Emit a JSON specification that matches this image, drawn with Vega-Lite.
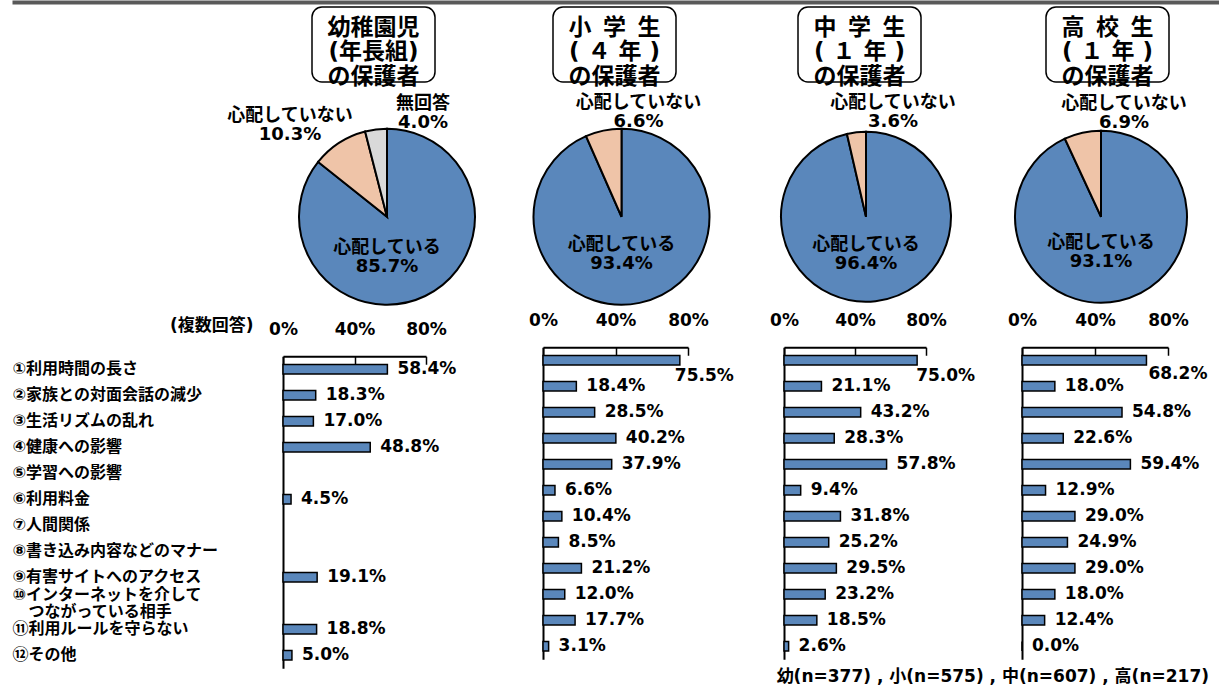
{
  "$schema": "https://vega.github.io/schema/vega-lite/v6.json",
  "padding": {"left": 12, "top": 0, "right": 0, "bottom": 0},
  "background": "white",
  "config": {
    "view": {"stroke": null},
    "font": "DejaVu Sans, Noto Sans CJK JP, sans-serif",
    "text": {"font": "DejaVu Sans, Noto Sans CJK JP, sans-serif", "fontWeight": "bold", "color": "#000"},
    "axis": {"grid": false, "domainColor": "#000", "domainWidth": 2, "tickColor": "#000", "labelColor": "#000", "labelFont": "DejaVu Sans, Noto Sans CJK JP, sans-serif", "labelFontSize": 17, "labelFontWeight": "bold", "titleFont": "DejaVu Sans, Noto Sans CJK JP, sans-serif", "titleFontSize": 17, "titleFontWeight": "bold", "titleColor": "#000", "zindex": 1}
  },
  "datasets": {
    "titles": [
      {"g": "幼", "t": "幼稚園児\n(年長組)\nの保護者"},
      {"g": "小", "t": "小\u2002学\u2002生\n( ４ 年 )\nの保護者"},
      {"g": "中", "t": "中\u2002学\u2002生\n( １ 年 )\nの保護者"},
      {"g": "高", "t": "高\u2002校\u2002生\n( １ 年 )\nの保護者"}
    ],
    "pies": [
      {"g": "幼", "k": 1, "cat": "心配している", "v": 0.857, "lbl": "心配している\n85.7%"},
      {"g": "幼", "k": 2, "cat": "心配していない", "v": 0.103, "lbl": "心配していない\n10.3%"},
      {"g": "幼", "k": 3, "cat": "無回答", "v": 0.040, "lbl": "無回答\n4.0%"},
      {"g": "小", "k": 1, "cat": "心配している", "v": 0.934, "lbl": "心配している\n93.4%"},
      {"g": "小", "k": 2, "cat": "心配していない", "v": 0.066, "lbl": "心配していない\n6.6%"},
      {"g": "中", "k": 1, "cat": "心配している", "v": 0.964, "lbl": "心配している\n96.4%"},
      {"g": "中", "k": 2, "cat": "心配していない", "v": 0.036, "lbl": "心配していない\n3.6%"},
      {"g": "高", "k": 1, "cat": "心配している", "v": 0.931, "lbl": "心配している\n93.1%"},
      {"g": "高", "k": 2, "cat": "心配していない", "v": 0.069, "lbl": "心配していない\n6.9%"}
    ],
    "bars": [
      {"g": "幼", "i": 1, "item": "①利用時間の長さ", "v": 0.584},
      {"g": "幼", "i": 2, "item": "②家族との対面会話の減少", "v": 0.183},
      {"g": "幼", "i": 3, "item": "③生活リズムの乱れ", "v": 0.170},
      {"g": "幼", "i": 4, "item": "④健康への影響", "v": 0.488},
      {"g": "幼", "i": 6, "item": "⑥利用料金", "v": 0.045},
      {"g": "幼", "i": 9, "item": "⑨有害サイトへのアクセス", "v": 0.191},
      {"g": "幼", "i": 11, "item": "⑪利用ルールを守らない", "v": 0.188},
      {"g": "幼", "i": 12, "item": "⑫その他", "v": 0.050},
      {"g": "小", "i": 1, "item": "①利用時間の長さ", "v": 0.755},
      {"g": "小", "i": 2, "item": "②家族との対面会話の減少", "v": 0.184},
      {"g": "小", "i": 3, "item": "③生活リズムの乱れ", "v": 0.285},
      {"g": "小", "i": 4, "item": "④健康への影響", "v": 0.402},
      {"g": "小", "i": 5, "item": "⑤学習への影響", "v": 0.379},
      {"g": "小", "i": 6, "item": "⑥利用料金", "v": 0.066},
      {"g": "小", "i": 7, "item": "⑦人間関係", "v": 0.104},
      {"g": "小", "i": 8, "item": "⑧書き込み内容などのマナー", "v": 0.085},
      {"g": "小", "i": 9, "item": "⑨有害サイトへのアクセス", "v": 0.212},
      {"g": "小", "i": 10, "item": "⑩インターネットを介して|\u200b\u3000つながっている相手", "v": 0.120},
      {"g": "小", "i": 11, "item": "⑪利用ルールを守らない", "v": 0.177},
      {"g": "小", "i": 12, "item": "⑫その他", "v": 0.031},
      {"g": "中", "i": 1, "item": "①利用時間の長さ", "v": 0.750},
      {"g": "中", "i": 2, "item": "②家族との対面会話の減少", "v": 0.211},
      {"g": "中", "i": 3, "item": "③生活リズムの乱れ", "v": 0.432},
      {"g": "中", "i": 4, "item": "④健康への影響", "v": 0.283},
      {"g": "中", "i": 5, "item": "⑤学習への影響", "v": 0.578},
      {"g": "中", "i": 6, "item": "⑥利用料金", "v": 0.094},
      {"g": "中", "i": 7, "item": "⑦人間関係", "v": 0.318},
      {"g": "中", "i": 8, "item": "⑧書き込み内容などのマナー", "v": 0.252},
      {"g": "中", "i": 9, "item": "⑨有害サイトへのアクセス", "v": 0.295},
      {"g": "中", "i": 10, "item": "⑩インターネットを介して|\u200b\u3000つながっている相手", "v": 0.232},
      {"g": "中", "i": 11, "item": "⑪利用ルールを守らない", "v": 0.185},
      {"g": "中", "i": 12, "item": "⑫その他", "v": 0.026},
      {"g": "高", "i": 1, "item": "①利用時間の長さ", "v": 0.682},
      {"g": "高", "i": 2, "item": "②家族との対面会話の減少", "v": 0.180},
      {"g": "高", "i": 3, "item": "③生活リズムの乱れ", "v": 0.548},
      {"g": "高", "i": 4, "item": "④健康への影響", "v": 0.226},
      {"g": "高", "i": 5, "item": "⑤学習への影響", "v": 0.594},
      {"g": "高", "i": 6, "item": "⑥利用料金", "v": 0.129},
      {"g": "高", "i": 7, "item": "⑦人間関係", "v": 0.290},
      {"g": "高", "i": 8, "item": "⑧書き込み内容などのマナー", "v": 0.249},
      {"g": "高", "i": 9, "item": "⑨有害サイトへのアクセス", "v": 0.290},
      {"g": "高", "i": 10, "item": "⑩インターネットを介して|\u200b\u3000つながっている相手", "v": 0.180},
      {"g": "高", "i": 11, "item": "⑪利用ルールを守らない", "v": 0.124},
      {"g": "高", "i": 12, "item": "⑫その他", "v": 0.000}
    ],
    "note": [{"t": "幼(n=377) , 小(n=575) , 中(n=607) , 高(n=217)"}]
  },
  "spacing": 4,
  "vconcat": [
    {"width": 936, "height": 2, "data": {"values": [{"x": 0.5}]}, "mark": {"type": "point", "opacity": 0, "size": 1}, "encoding": {"x": {"field": "x", "type": "quantitative", "scale": {"domain": [0, 1], "range": [-271, 936]}, "axis": {"orient": "top", "offset": -2, "domainWidth": 4, "domainColor": "#595959", "ticks": false, "labels": false, "title": null}}}},
    {
      "spacing": 3.75,
      "vconcat": [
        {
          "bounds": "flush",
          "spacing": 0,
          "hconcat": [
            {"width": 29, "height": 1, "data": {"values": []}, "mark": "text"},
            {"width": 123, "height": 75, "view": {"stroke": "#000", "strokeWidth": 1.5, "cornerRadius": 10}, "data": {"name": "titles"}, "transform": [{"filter": "datum.g=='幼'"}], "mark": {"type": "text", "lineBreak": "\n", "lineHeight": 24.5, "fontSize": 23, "align": "center", "baseline": "middle", "dy": -17}, "encoding": {"text": {"field": "t"}}},
            {"width": 118, "height": 1, "data": {"values": []}, "mark": "text"},
            {"width": 123, "height": 75, "view": {"stroke": "#000", "strokeWidth": 1.5, "cornerRadius": 10}, "data": {"name": "titles"}, "transform": [{"filter": "datum.g=='小'"}], "mark": {"type": "text", "lineBreak": "\n", "lineHeight": 24.5, "fontSize": 23, "align": "center", "baseline": "middle", "dy": -17}, "encoding": {"text": {"field": "t"}}},
            {"width": 122, "height": 1, "data": {"values": []}, "mark": "text"},
            {"width": 123, "height": 75, "view": {"stroke": "#000", "strokeWidth": 1.5, "cornerRadius": 10}, "data": {"name": "titles"}, "transform": [{"filter": "datum.g=='中'"}], "mark": {"type": "text", "lineBreak": "\n", "lineHeight": 24.5, "fontSize": 23, "align": "center", "baseline": "middle", "dy": -17}, "encoding": {"text": {"field": "t"}}},
            {"width": 125, "height": 1, "data": {"values": []}, "mark": "text"},
            {"width": 123, "height": 75, "view": {"stroke": "#000", "strokeWidth": 1.5, "cornerRadius": 10}, "data": {"name": "titles"}, "transform": [{"filter": "datum.g=='高'"}], "mark": {"type": "text", "lineBreak": "\n", "lineHeight": 24.5, "fontSize": 23, "align": "center", "baseline": "middle", "dy": -17}, "encoding": {"text": {"field": "t"}}}
          ]
        },
        {
          "spacing": 2.5,
          "vconcat": [
            {
              "bounds": "flush",
              "spacing": 0,
              "hconcat": [
                {
                  "width": 208, "height": 180,
                  "data": {"name": "pies"}, "transform": [{"filter": "datum.g=='幼'"}],
                  "layer": [
                    {"mark": {"type": "arc", "outerRadius": 88, "stroke": "#000", "strokeWidth": 2}, "encoding": {"theta": {"field": "v", "type": "quantitative", "stack": true}, "order": {"field": "k"}, "color": {"field": "cat", "type": "nominal", "scale": {"domain": ["心配している", "心配していない", "無回答"], "range": ["#5a87bb", "#efc4a8", "#d9d9d9"]}, "legend": null}}},
                    {"transform": [{"filter": "datum.k==1"}], "mark": {"type": "text", "lineBreak": "\n", "fontSize": 18, "lineHeight": 19, "align": "center", "baseline": "middle", "dy": 31}, "encoding": {"text": {"field": "lbl"}}},
                    {"transform": [{"filter": "datum.k==2"}], "mark": {"type": "text", "lineBreak": "\n", "fontSize": 18, "lineHeight": 19, "align": "center", "baseline": "middle", "dx": -97, "dy": -101}, "encoding": {"text": {"field": "lbl"}}},
                    {"transform": [{"filter": "datum.k==3"}], "mark": {"type": "text", "lineBreak": "\n", "fontSize": 18, "lineHeight": 19, "align": "center", "baseline": "middle", "dx": 36, "dy": -112.5}, "encoding": {"text": {"field": "lbl"}}}
                  ]
                },
                {
                  "width": 261, "height": 180,
                  "data": {"name": "pies"}, "transform": [{"filter": "datum.g=='小'"}],
                  "layer": [
                    {"mark": {"type": "arc", "outerRadius": 88, "stroke": "#000", "strokeWidth": 2}, "encoding": {"theta": {"field": "v", "type": "quantitative", "stack": true}, "order": {"field": "k"}, "color": {"field": "cat", "type": "nominal", "scale": {"domain": ["心配している", "心配していない", "無回答"], "range": ["#5a87bb", "#efc4a8", "#d9d9d9"]}, "legend": null}}},
                    {"transform": [{"filter": "datum.k==1"}], "mark": {"type": "text", "lineBreak": "\n", "fontSize": 18, "lineHeight": 19, "align": "center", "baseline": "middle", "dy": 28.5}, "encoding": {"text": {"field": "lbl"}}},
                    {"transform": [{"filter": "datum.k==2"}], "mark": {"type": "text", "lineBreak": "\n", "fontSize": 18, "lineHeight": 19, "align": "center", "baseline": "middle", "dx": 17, "dy": -113.5}, "encoding": {"text": {"field": "lbl"}}}
                  ]
                },
                {
                  "width": 228, "height": 180,
                  "data": {"name": "pies"}, "transform": [{"filter": "datum.g=='中'"}],
                  "layer": [
                    {"mark": {"type": "arc", "outerRadius": 85, "stroke": "#000", "strokeWidth": 2}, "encoding": {"theta": {"field": "v", "type": "quantitative", "stack": true}, "order": {"field": "k"}, "color": {"field": "cat", "type": "nominal", "scale": {"domain": ["心配している", "心配していない", "無回答"], "range": ["#5a87bb", "#efc4a8", "#d9d9d9"]}, "legend": null}}},
                    {"transform": [{"filter": "datum.k==1"}], "mark": {"type": "text", "lineBreak": "\n", "fontSize": 18, "lineHeight": 19, "align": "center", "baseline": "middle", "dy": 28}, "encoding": {"text": {"field": "lbl"}}},
                    {"transform": [{"filter": "datum.k==2"}], "mark": {"type": "text", "lineBreak": "\n", "fontSize": 18, "lineHeight": 19, "align": "center", "baseline": "middle", "dx": 27, "dy": -114}, "encoding": {"text": {"field": "lbl"}}}
                  ]
                },
                {
                  "width": 242, "height": 180,
                  "data": {"name": "pies"}, "transform": [{"filter": "datum.g=='高'"}],
                  "layer": [
                    {"mark": {"type": "arc", "outerRadius": 86, "stroke": "#000", "strokeWidth": 2}, "encoding": {"theta": {"field": "v", "type": "quantitative", "stack": true}, "order": {"field": "k"}, "color": {"field": "cat", "type": "nominal", "scale": {"domain": ["心配している", "心配していない", "無回答"], "range": ["#5a87bb", "#efc4a8", "#d9d9d9"]}, "legend": null}}},
                    {"transform": [{"filter": "datum.k==1"}], "mark": {"type": "text", "lineBreak": "\n", "fontSize": 18, "lineHeight": 19, "align": "center", "baseline": "middle", "dy": 26}, "encoding": {"text": {"field": "lbl"}}},
                    {"transform": [{"filter": "datum.k==2"}], "mark": {"type": "text", "lineBreak": "\n", "fontSize": 18, "lineHeight": 19, "align": "center", "baseline": "middle", "dx": 23, "dy": -113}, "encoding": {"text": {"field": "lbl"}}}
                  ]
                }
              ]
            },
            {
              "spacing": -4,
              "vconcat": [
                {
                  "bounds": "flush",
                  "spacing": 96,
                  "hconcat": [
                    {
                      "width": 164, "height": 321,
                      "data": {"name": "bars"}, "transform": [{"filter": "datum.g=='幼'"}],
                      "encoding": {
                        "y": {"field": "item", "type": "nominal", "scale": {"domain": ["①利用時間の長さ", "②家族との対面会話の減少", "③生活リズムの乱れ", "④健康への影響", "⑤学習への影響", "⑥利用料金", "⑦人間関係", "⑧書き込み内容などのマナー", "⑨有害サイトへのアクセス", "⑩インターネットを介して|\u200b\u3000つながっている相手", "⑪利用ルールを守らない", "⑫その他"], "range": [9, 321], "paddingInner": 0.635, "paddingOuter": 0.3175}, "axis": {"title": null, "ticks": false, "labelAlign": "left", "labelBaseline": "middle", "labelPadding": 271, "labelLimit": 0, "labelFontSize": 16, "labelLineHeight": 17, "labelExpr": "split(datum.label, '|')", "labelOffset": {"condition": {"test": "indexof(datum.value, '|') >= 0", "value": -8.5}, "value": 0}}},
                        "x": {"field": "v", "type": "quantitative", "scale": {"domain": [0, 0.8], "range": [0, 143]}, "axis": {"orient": "top", "offset": -9, "values": [0, 0.4, 0.8], "format": ".0%", "labelFlush": false, "labelOverlap": false, "tickSize": -8, "tickWidth": 1.5, "labelPadding": 25.5, "title": "(複数回答)", "titleX": -30, "titleY": -31, "titleAlign": "right", "titleBaseline": "middle", "titleAngle": 0}}
                      },
                      "layer": [
                        {"mark": {"type": "bar", "fill": "#5a87bb", "stroke": "#000", "strokeWidth": 1.5}},
                        {"mark": {"type": "text", "align": "left", "baseline": "middle", "dx": 10, "fontSize": 17}, "encoding": {"text": {"field": "v", "format": ".1%"}}}
                      ]
                    },
                    {
                      "width": 145, "height": 312,
                      "data": {"name": "bars"}, "transform": [{"filter": "datum.g=='小'"}],
                      "encoding": {
                        "y": {"field": "item", "type": "nominal", "scale": {"domain": ["①利用時間の長さ", "②家族との対面会話の減少", "③生活リズムの乱れ", "④健康への影響", "⑤学習への影響", "⑥利用料金", "⑦人間関係", "⑧書き込み内容などのマナー", "⑨有害サイトへのアクセス", "⑩インターネットを介して|\u200b\u3000つながっている相手", "⑪利用ルールを守らない", "⑫その他"], "paddingInner": 0.635, "paddingOuter": 0.3175}, "axis": {"title": null, "ticks": false, "labels": false}},
                        "x": {"field": "v", "type": "quantitative", "scale": {"domain": [0, 0.8]}, "axis": {"orient": "top", "values": [0, 0.4, 0.8], "format": ".0%", "labelFlush": false, "labelOverlap": false, "tickSize": -8, "tickWidth": 1.5, "labelPadding": 25.5, "title": null}}
                      },
                      "layer": [
                        {"mark": {"type": "bar", "fill": "#5a87bb", "stroke": "#000", "strokeWidth": 1.5}},
                        {"transform": [{"filter": "datum.i != 1"}], "mark": {"type": "text", "align": "left", "baseline": "middle", "dx": 10, "fontSize": 17}, "encoding": {"text": {"field": "v", "format": ".1%"}}},
                        {"transform": [{"filter": "datum.i == 1"}], "mark": {"type": "text", "align": "left", "baseline": "middle", "dx": -5, "dy": 16, "fontSize": 17}, "encoding": {"text": {"field": "v", "format": ".1%"}}}
                      ]
                    },
                    {
                      "width": 142, "height": 312,
                      "data": {"name": "bars"}, "transform": [{"filter": "datum.g=='中'"}],
                      "encoding": {
                        "y": {"field": "item", "type": "nominal", "scale": {"domain": ["①利用時間の長さ", "②家族との対面会話の減少", "③生活リズムの乱れ", "④健康への影響", "⑤学習への影響", "⑥利用料金", "⑦人間関係", "⑧書き込み内容などのマナー", "⑨有害サイトへのアクセス", "⑩インターネットを介して|\u200b\u3000つながっている相手", "⑪利用ルールを守らない", "⑫その他"], "paddingInner": 0.635, "paddingOuter": 0.3175}, "axis": {"title": null, "ticks": false, "labels": false}},
                        "x": {"field": "v", "type": "quantitative", "scale": {"domain": [0, 0.8]}, "axis": {"orient": "top", "values": [0, 0.4, 0.8], "format": ".0%", "labelFlush": false, "labelOverlap": false, "tickSize": -8, "tickWidth": 1.5, "labelPadding": 25.5, "title": null}}
                      },
                      "layer": [
                        {"mark": {"type": "bar", "fill": "#5a87bb", "stroke": "#000", "strokeWidth": 1.5}},
                        {"transform": [{"filter": "datum.i != 1"}], "mark": {"type": "text", "align": "left", "baseline": "middle", "dx": 10, "fontSize": 17}, "encoding": {"text": {"field": "v", "format": ".1%"}}},
                        {"transform": [{"filter": "datum.i == 1"}], "mark": {"type": "text", "align": "left", "baseline": "middle", "dx": -1, "dy": 16, "fontSize": 17}, "encoding": {"text": {"field": "v", "format": ".1%"}}}
                      ]
                    },
                    {
                      "width": 146, "height": 312,
                      "data": {"name": "bars"}, "transform": [{"filter": "datum.g=='高'"}],
                      "encoding": {
                        "y": {"field": "item", "type": "nominal", "scale": {"domain": ["①利用時間の長さ", "②家族との対面会話の減少", "③生活リズムの乱れ", "④健康への影響", "⑤学習への影響", "⑥利用料金", "⑦人間関係", "⑧書き込み内容などのマナー", "⑨有害サイトへのアクセス", "⑩インターネットを介して|\u200b\u3000つながっている相手", "⑪利用ルールを守らない", "⑫その他"], "paddingInner": 0.635, "paddingOuter": 0.3175}, "axis": {"title": null, "ticks": false, "labels": false}},
                        "x": {"field": "v", "type": "quantitative", "scale": {"domain": [0, 0.8]}, "axis": {"orient": "top", "values": [0, 0.4, 0.8], "format": ".0%", "labelFlush": false, "labelOverlap": false, "tickSize": -8, "tickWidth": 1.5, "labelPadding": 25.5, "title": null}}
                      },
                      "layer": [
                        {"mark": {"type": "bar", "fill": "#5a87bb", "stroke": "#000", "strokeWidth": 1.5}},
                        {"transform": [{"filter": "datum.i != 1"}], "mark": {"type": "text", "align": "left", "baseline": "middle", "dx": 10, "fontSize": 17}, "encoding": {"text": {"field": "v", "format": ".1%"}}},
                        {"transform": [{"filter": "datum.i == 1"}], "mark": {"type": "text", "align": "left", "baseline": "middle", "dx": 2, "dy": 14, "fontSize": 17}, "encoding": {"text": {"field": "v", "format": ".1%"}}}
                      ]
                    }
                  ]
                },
                {"width": 926, "height": 18, "data": {"name": "note"}, "mark": {"type": "text", "x": "width", "align": "right", "baseline": "middle", "fontSize": 17}, "encoding": {"text": {"field": "t"}}}
              ]
            }
          ]
        }
      ]
    }
  ]
}
